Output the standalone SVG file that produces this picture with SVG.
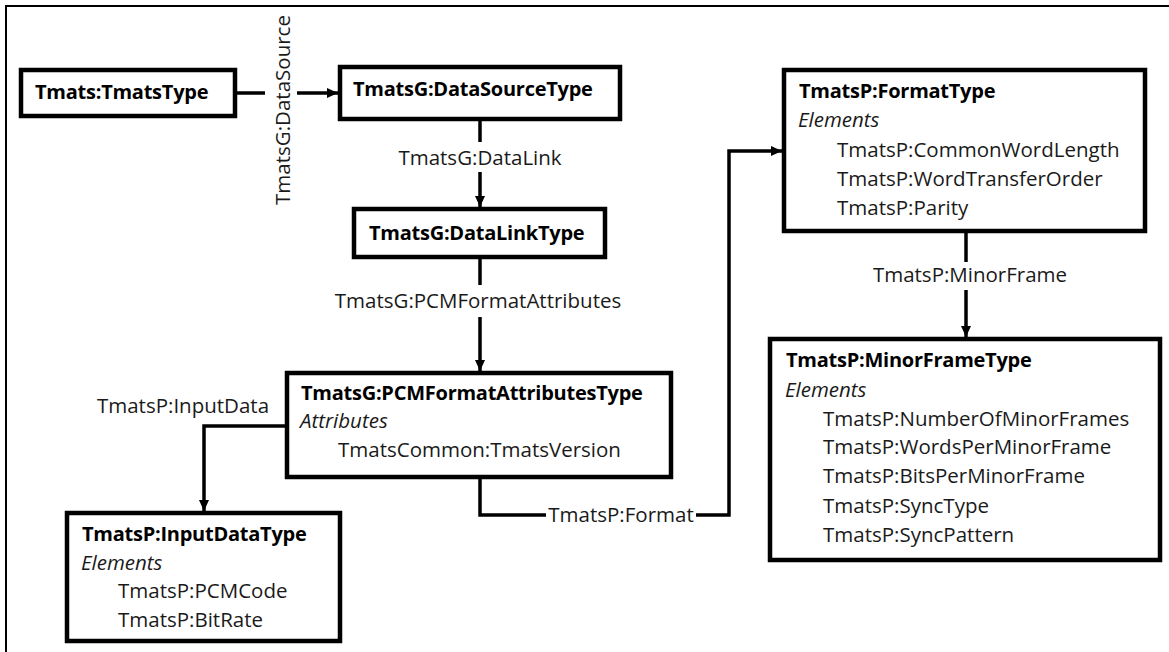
<svg xmlns="http://www.w3.org/2000/svg" width="1169" height="652" viewBox="0 0 1169 652">
<style>
text{font-family:"Open Sans","Noto Sans","Liberation Sans",sans-serif;font-size:20.5px;fill:#1a1a1a}
.t{font-weight:bold;fill:#000;font-size:20px;letter-spacing:-0.25px}
.i{font-style:italic}
.box{fill:#fff;stroke:#000;stroke-width:4.5}
.c{fill:none;stroke:#000;stroke-width:3.5}
.frame{fill:none;stroke:#000;stroke-width:2}
</style>
<defs>
<marker id="ah" markerUnits="userSpaceOnUse" markerWidth="12" markerHeight="12" refX="11" refY="6" orient="auto">
<path d="M0,1 L11,6 L0,11 z" fill="#000"/>
</marker>
</defs>
<rect width="1169" height="652" fill="#fff"/>
<path class="frame" d="M6,700 V6 H1175"/>
<g id="connectors">
<path class="c" d="M237,93 H265"/>
<path class="c" d="M297,93 H338" marker-end="url(#ah)"/>
<text transform="translate(290,110) rotate(-90)" text-anchor="middle">TmatsG:DataSource</text>
<path class="c" d="M480,121 V142"/>
<path class="c" d="M480,172 V207" marker-end="url(#ah)"/>
<text x="480" y="165" text-anchor="middle">TmatsG:DataLink</text>
<path class="c" d="M480,259 V285"/>
<path class="c" d="M480,317 V371" marker-end="url(#ah)"/>
<text x="478" y="308" text-anchor="middle">TmatsG:PCMFormatAttributes</text>
<path class="c" d="M285,426 H204 V511" marker-end="url(#ah)"/>
<text x="183" y="413" text-anchor="middle">TmatsP:InputData</text>
<path class="c" d="M480,479 V515 H546"/>
<path class="c" d="M696,515 H729 V151 H782" marker-end="url(#ah)"/>
<text x="621" y="522" text-anchor="middle">TmatsP:Format</text>
<path class="c" d="M966,233 V262"/>
<path class="c" d="M966,290 V337" marker-end="url(#ah)"/>
<text x="970" y="282" text-anchor="middle">TmatsP:MinorFrame</text>
</g>
<g id="tmatsType">
<rect class="box" x="21" y="70" width="214" height="46"/>
<text class="t" x="35" y="99">Tmats:TmatsType</text>
</g>
<g id="dataSourceType">
<rect class="box" x="340" y="67" width="280" height="52"/>
<text class="t" x="353" y="96">TmatsG:DataSourceType</text>
</g>
<g id="dataLinkType">
<rect class="box" x="354" y="209" width="251" height="48"/>
<text class="t" x="369" y="240">TmatsG:DataLinkType</text>
</g>
<g id="pcmFormatAttributesType">
<rect class="box" x="287" y="373" width="384" height="104"/>
<text class="t" x="301" y="400">TmatsG:PCMFormatAttributesType</text>
<text class="i" x="300" y="428">Attributes</text>
<text x="338" y="457">TmatsCommon:TmatsVersion</text>
</g>
<g id="inputDataType">
<rect class="box" x="67" y="513" width="273" height="128"/>
<text class="t" x="82" y="541">TmatsP:InputDataType</text>
<text class="i" x="81" y="570">Elements</text>
<text x="118" y="598">TmatsP:PCMCode</text>
<text x="118" y="627">TmatsP:BitRate</text>
</g>
<g id="formatType">
<rect class="box" x="784" y="70" width="361" height="161"/>
<text class="t" x="799" y="98">TmatsP:FormatType</text>
<text class="i" x="798" y="127">Elements</text>
<text x="837" y="157">TmatsP:CommonWordLength</text>
<text x="837" y="186">TmatsP:WordTransferOrder</text>
<text x="837" y="215">TmatsP:Parity</text>
</g>
<g id="minorFrameType">
<rect class="box" x="770" y="339" width="390" height="221"/>
<text class="t" x="786" y="367">TmatsP:MinorFrameType</text>
<text class="i" x="785" y="397">Elements</text>
<text x="823" y="426">TmatsP:NumberOfMinorFrames</text>
<text x="823" y="454">TmatsP:WordsPerMinorFrame</text>
<text x="823" y="483">TmatsP:BitsPerMinorFrame</text>
<text x="823" y="513">TmatsP:SyncType</text>
<text x="823" y="542">TmatsP:SyncPattern</text>
</g>
</svg>
